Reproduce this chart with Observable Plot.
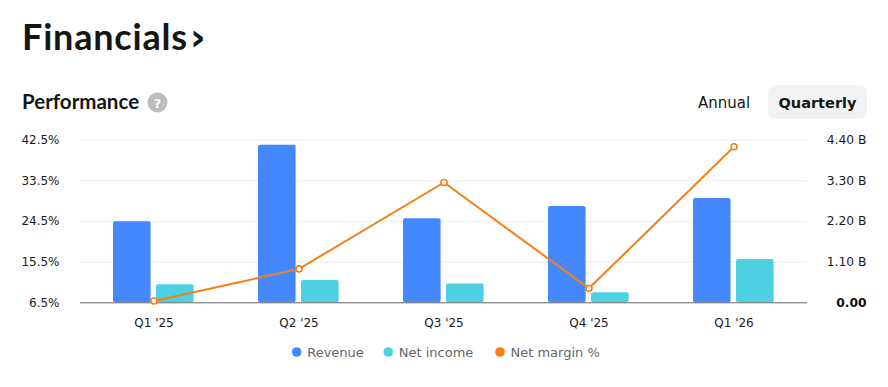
<!DOCTYPE html>
<html><head><meta charset="utf-8">
<script src="https://cdn.jsdelivr.net/npm/d3@7"></script>
<script src="https://cdn.jsdelivr.net/npm/@observablehq/plot@0.6"></script>
<style>
body{margin:0;background:#fff;width:888px;height:387px;position:relative;overflow:hidden;font-family:"DejaVu Sans",sans-serif}
#head,#legend{position:absolute;left:0;top:0}
#chart{position:absolute;left:0;top:120px}
</style></head><body>
<svg id="head" width="888" height="125">
  <text x="22" y="50" font-family="Lato" font-weight="700" font-size="36" letter-spacing="0.8" fill="#151515">Financials<tspan dx="2" font-size="38" font-family="DejaVu Sans" font-weight="700" letter-spacing="0">›</tspan></text>
  <text x="22" y="109" font-family="Lato" font-weight="700" font-size="20.5" fill="#151515">Performance</text>
  <circle cx="157.5" cy="102.5" r="10" fill="#bdbdbd"></circle>
  <text x="157.5" y="107.5" text-anchor="middle" font-family="DejaVu Sans" font-weight="700" font-size="13" fill="#fff">?</text>
  <text x="698" y="108" font-family="DejaVu Sans" font-size="15" fill="#151515">Annual</text>
  <rect x="768" y="85" width="99" height="34" rx="8" fill="#f2f2f2"></rect>
  <text x="817.5" y="108" text-anchor="middle" font-family="DejaVu Sans" font-weight="700" font-size="14.5" fill="#151515">Quarterly</text>
</svg>
<div id="chart"></div>
<svg id="legend" width="888" height="387" style="pointer-events:none"></svg>
<script>
const quarters = ["Q1 '25", "Q2 '25", "Q3 '25", "Q4 '25", "Q1 '26"];
const revenue = [2.19, 4.26, 2.27, 2.60, 2.82];       // billions
const netIncome = [0.49, 0.60, 0.51, 0.27, 1.17];     // billions
const netMargin = [6.9, 14.0, 33.1, 9.7, 41.0];       // percent
const rightTicks = [0, 1.1, 2.2, 3.3, 4.4];
const rightTickLabels = ["0.00", "1.10 B", "2.20 B", "3.30 B", "4.40 B"];
const leftTickLabels = ["6.5%", "15.5%", "24.5%", "33.5%", "42.5%"];
const pctMin = 6.5, pctMax = 42.5, bMax = 4.4;
const seriesNames = ["Revenue", "Net income", "Net margin %"];
const seriesColors = ["#4488ff", "#4dd0e1", "#f57f17"];

const rows = quarters.map((q, i) => ({
  q, rev: revenue[i], ni: netIncome[i],
  m: (netMargin[i] - pctMin) / (pctMax - pctMin) * bMax
}));

const chart = Plot.plot({
  width: 888, height: 220,
  marginTop: 19.5, marginBottom: 37.7, marginLeft: 80, marginRight: 81,
  x: {domain: quarters, padding: 0, axis: null},
  y: {domain: [0, bMax], axis: null},
  style: {fontFamily: "DejaVu Sans", fontSize: "12px", color: "#222", background: "transparent"},
  marks: [
    Plot.ruleY(rightTicks.slice(1), {stroke: "#ececec", strokeWidth: 1}),
    Plot.barY(rows, {x: "q", y: "rev", fill: seriesColors[0], insetLeft: 32, insetRight: 75.4, rx: 2}),
    Plot.barY(rows, {x: "q", y: "ni", fill: seriesColors[1], insetLeft: 75, insetRight: 32.4, rx: 2}),
    Plot.ruleY([0], {stroke: "#666", strokeWidth: 1}),
    Plot.line(rows, {x: "q", y: "m", stroke: seriesColors[2], strokeWidth: 2}),
    Plot.dot(rows, {x: "q", y: "m", r: 3, fill: "white", stroke: seriesColors[2], strokeWidth: 1.6}),
    Plot.text(quarters, {x: d => d, frameAnchor: "bottom", dy: 20.5, lineAnchor: "middle", fill: "#1a1a1a", fontSize: 12}),
    Plot.text(rightTicks, {y: d => d, text: (d, i) => leftTickLabels[i], frameAnchor: "left", dx: -21, textAnchor: "end", fill: "#1a1a1a", fontSize: 12}),
    Plot.text(rightTicks.slice(1), {y: d => d, text: (d, i) => rightTickLabels[i + 1], frameAnchor: "right", dx: 59, textAnchor: "end", fill: "#1a1a1a", fontSize: 12.3}),
    Plot.text([0], {y: d => d, text: () => rightTickLabels[0], frameAnchor: "right", dx: 59, textAnchor: "end", fill: "#111", fontSize: 12.3, fontWeight: "bold"})
  ]
});
document.getElementById("chart").appendChild(chart);

// legend
const lg = d3.select("#legend");
const lx = [296.7, 388.3, 500];
seriesNames.forEach((name, i) => {
  lg.append("circle").attr("cx", lx[i]).attr("cy", 352).attr("r", 4.8).attr("fill", seriesColors[i]);
  lg.append("text").attr("x", lx[i] + 10.5).attr("y", 357).attr("font-family", "DejaVu Sans")
    .attr("font-size", 13).attr("fill", "#666").text(name);
});
</script>
</body></html>
